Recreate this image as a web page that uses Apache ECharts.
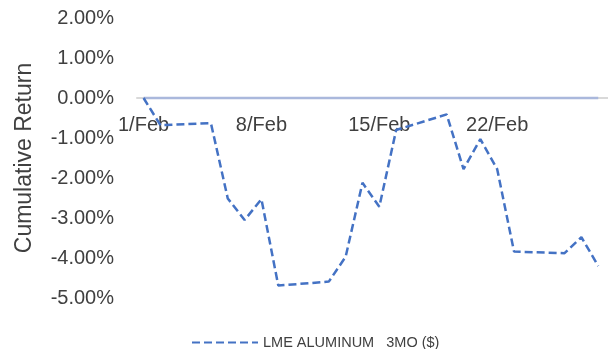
<!DOCTYPE html>
<html>
<head>
<meta charset="utf-8">
<script src="https://cdn.jsdelivr.net/npm/echarts@6/dist/echarts.min.js"></script>
<style>
  html, body { margin: 0; padding: 0; background: #fff; }
  #chart { width: 608px; height: 349px; }
</style>
</head>
<body>
<div id="chart"></div>
<script>
// trading days in February (day of month) and cumulative return in %
var days = [1, 2, 5, 6, 7, 8, 9, 12, 13, 14, 15, 16, 19, 20, 21, 22, 23, 26, 27, 28];
var returns = [0, -0.68, -0.63, -2.51, -3.05, -2.53, -4.69, -4.59, -3.97, -2.12,
               -2.72, -0.80, -0.41, -1.78, -1.03, -1.78, -3.84, -3.88, -3.48, -4.20];
var baseline = [0, 0];
var baselineDays = [1, 28];
var tickDays = [1, 8, 15, 22];
var tickLabels = ['1/Feb', '8/Feb', '15/Feb', '22/Feb'];
var seriesName = 'LME ALUMINUM   3MO ($)';

var font = 'Liberation Sans, Arial, sans-serif';
var textColor = '#404040';

var myChart = echarts.init(document.getElementById('chart'));

var option = {
  animation: false,
  grid: { left: 137, right: 0, top: 18, bottom: 51 },
  legend: {
    data: [{ name: seriesName }],
    left: 186,
    top: 330,
    itemWidth: 66,
    itemHeight: 14,
    itemStyle: { opacity: 0 },
    textStyle: { fontFamily: font, fontSize: 14.5, color: textColor }
  },
  xAxis: {
    type: 'value',
    position: 'top',
    offset: -80, // top of grid is 2%, the axis sits on 0%
    min: 0.61,
    max: 28.58,
    splitLine: { show: false },
    axisTick: { show: false },
    axisLine: { onZero: false, lineStyle: { color: '#d9d9d9', width: 2 } },
    axisLabel: {
      inside: true,
      customValues: tickDays,
      margin: 17,
      fontFamily: font,
      fontSize: 20,
      color: textColor,
      formatter: function (v) {
        var i = tickDays.indexOf(v);
        return i >= 0 ? tickLabels[i] : '';
      }
    }
  },
  yAxis: {
    type: 'value',
    min: -5,
    max: 2,
    interval: 1,
    name: 'Cumulative Return',
    nameLocation: 'middle',
    nameGap: 101,
    nameTextStyle: { fontFamily: font, fontSize: 23, color: textColor },
    splitLine: { show: false },
    axisLine: { show: false },
    axisTick: { show: false },
    axisLabel: {
      margin: 23,
      fontFamily: font,
      fontSize: 20,
      color: textColor,
      padding: [8, 0, 0, 0],
      formatter: function (v) { return v.toFixed(2) + '%'; }
    }
  },
  series: [
    {
      name: 'zero',
      type: 'line',
      data: baselineDays.map(function (d, i) { return [d, baseline[i]]; }),
      symbol: 'none',
      silent: true,
      lineStyle: { color: '#aab8dc', width: 2.5 },
      z: 3
    },
    {
      name: seriesName,
      type: 'line',
      data: days.map(function (d, i) { return [d, returns[i]]; }),
      symbol: 'none',
      lineStyle: { color: '#4472c4', width: 2.5, type: [8, 4] },
      itemStyle: { color: '#4472c4' },
      z: 4
    }
  ]
};

myChart.setOption(option);
</script>
</body>
</html>
